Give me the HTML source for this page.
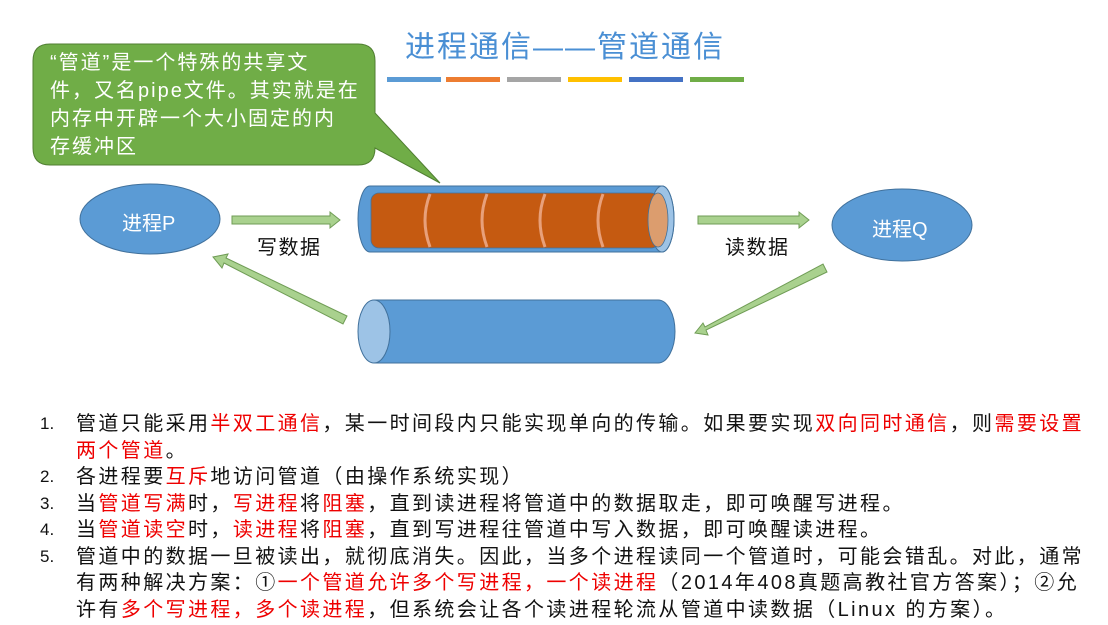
<!DOCTYPE html>
<html><head><meta charset="utf-8"><style>
body{margin:0;background:#fff;width:1108px;height:625px;overflow:hidden;position:relative;font-family:"Liberation Sans","Noto Sans CJK SC",sans-serif}
.t{position:absolute;white-space:nowrap}
ol{position:absolute;left:40px;top:411px;margin:0;padding:0;list-style:none;font-size:20px;line-height:26.5px;color:#111;letter-spacing:2.4px}
li{position:relative;padding-left:36px;width:1016px}
li span.n{position:absolute;left:0;top:0;font-size:17px;letter-spacing:0}
.r{color:#e00}
</style></head><body>
<svg width="1108" height="625" style="position:absolute;left:0;top:0">
<g fill="#5b9bd5">
<rect x="387" y="77" width="54" height="5"/><rect x="446" y="77" width="54" height="5" fill="#ed7d31"/><rect x="507" y="77" width="54" height="5" fill="#a5a5a5"/><rect x="568" y="77" width="54" height="5" fill="#ffc000"/><rect x="629" y="77" width="54" height="5" fill="#4472c4"/><rect x="690" y="77" width="54" height="5" fill="#70ad47"/>
</g>
<path d="M50 44 H358 Q375 44 375 61 V113 L440 183 L375 148 Q375 165 358 165 H50 Q33 165 33 148 V61 Q33 44 50 44 Z" fill="#70ad47" stroke="#507e32" stroke-width="1"/>
<ellipse cx="150" cy="219" rx="70" ry="35" fill="#5b9bd5" stroke="#41719c"/>
<ellipse cx="902" cy="225" rx="70" ry="36" fill="#5b9bd5" stroke="#41719c"/>
<g fill="#a9d18e" stroke="#6f9c55">
<polygon points="232,216 330,216 330,212 340,220 330,228 330,224 232,224"/>
<polygon points="698,216 799,216 799,212 809,220 799,228 799,224 698,224"/>
<polygon points="823,264 827,272 706,330 708,335 695,333 703,323 705,327"/>
<polygon points="347,316 343,324 224,263 222,268 213,257 228,254 226,258"/>
</g>
<path d="M370 186 H662 A12 33 0 0 1 662 252 H370 A12 33 0 0 1 370 186 Z" fill="#5b9bd5" stroke="#41719c"/>
<ellipse cx="662" cy="219" rx="12" ry="33" fill="#9dc3e6" stroke="#41719c"/>
<rect x="371" y="193" width="288" height="55" rx="8" fill="#c55a11" stroke="#41719c" stroke-width="0.8"/>
<g fill="none" stroke="#e8a07a" stroke-width="3">
<path d="M430 194 Q420 220 430 247"/><path d="M487 194 Q477 220 487 247"/><path d="M545 194 Q535 220 545 247"/><path d="M603 194 Q593 220 603 247"/>
</g>
<ellipse cx="658" cy="220" rx="10" ry="27" fill="#dc9d6e" stroke="#41719c" stroke-width="0.8"/>
<path d="M374 300 H658 A17 31.5 0 0 1 658 363 H374 Z" fill="#5b9bd5" stroke="#41719c"/>
<ellipse cx="374" cy="331.5" rx="16" ry="31.5" fill="#9dc3e6" stroke="#41719c"/>
</svg>
<div class="t" style="left:405px;top:22px;font-size:30px;color:#4a8fd4;letter-spacing:2px">进程通信——管道通信</div>
<div class="t" style="left:50px;top:49px;font-size:20px;line-height:28px;color:#fff;letter-spacing:2px">“管道”是一个特殊的共享文<br>件，又名pipe文件。其实就是在<br>内存中开辟一个大小固定的内<br>存缓冲区</div>
<div class="t" style="left:122px;top:207px;font-size:20px;color:#fff">进程P</div>
<div class="t" style="left:872px;top:213px;font-size:20px;color:#fff">进程Q</div>
<div class="t" style="left:257px;top:231px;font-size:20px;color:#111;letter-spacing:1.5px">写数据</div>
<div class="t" style="left:725px;top:231px;font-size:20px;color:#111;letter-spacing:1.5px">读数据</div>
<ol>
<li><span class="n">1.</span>管道只能采用<span class="r">半双工通信</span>，某一时间段内只能实现单向的传输。如果要实现<span class="r">双向同时通信</span>，则<span class="r">需要设置两个管道</span>。</li>
<li><span class="n">2.</span>各进程要<span class="r">互斥</span>地访问管道（由操作系统实现）</li>
<li><span class="n">3.</span>当<span class="r">管道写满</span>时，<span class="r">写进程</span>将<span class="r">阻塞</span>，直到读进程将管道中的数据取走，即可唤醒写进程。</li>
<li><span class="n">4.</span>当<span class="r">管道读空</span>时，<span class="r">读进程</span>将<span class="r">阻塞</span>，直到写进程往管道中写入数据，即可唤醒读进程。</li>
<li><span class="n">5.</span>管道中的数据一旦被读出，就彻底消失。因此，当多个进程读同一个管道时，可能会错乱。对此，通常有两种解决方案：①<span class="r">一个管道允许多个写进程，一个读进程</span>（2014年408真题高教社官方答案）；②允许有<span class="r">多个写进程，多个读进程</span>，但系统会让各个读进程轮流从管道中读数据（Linux 的方案）。</li>
</ol>
</body></html>
